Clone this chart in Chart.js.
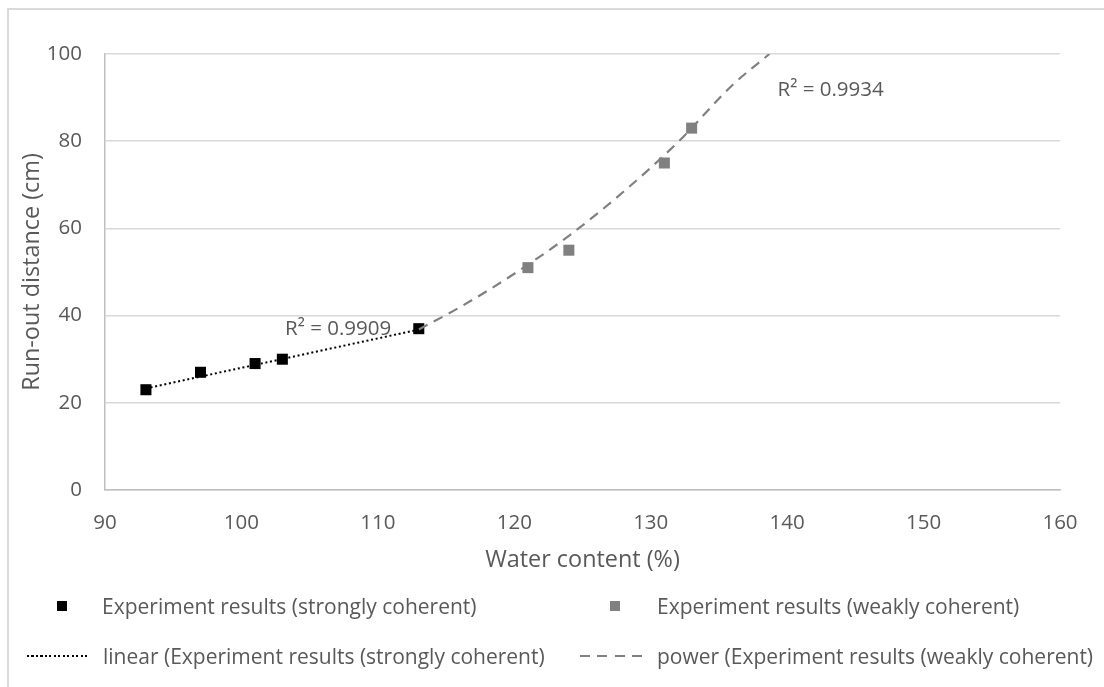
<!DOCTYPE html>
<html>
<head>
<meta charset="utf-8">
<script src="https://cdn.jsdelivr.net/npm/chart.js@4/dist/chart.umd.min.js"></script>
<style>
    body { margin: 0; background: #fff; overflow: hidden; }
    #wrap { position: relative; width: 1104px; height: 687px; }
    #frame { position: absolute; left: 7px; top: 8px; width: 1200px; height: 800px;
             border-left: 2px solid #d9d9d9; border-top: 2px solid #d9d9d9; }
    canvas { position: absolute; left: 0; top: 0; }
    .lg { position: absolute; font-family: 'Open Sans', sans-serif; font-size: 21px; color: #595959;
          line-height: 24px; white-space: nowrap; }
    .mk { position: absolute; width: 10px; height: 10px; }
    .ln { position: absolute; height: 2px; }
</style>
</head>
<body>
<div id="wrap">
    <div id="frame"></div>
    <canvas id="chart" width="1104" height="687"></canvas>

    <!-- legend, Excel style, two columns -->
    <div class="mk" style="left:57px; top:601px; background:#000;"></div>
    <div class="lg" style="left:102px; top:594px;">Experiment results (strongly coherent)</div>
    <div class="mk" style="left:610px; top:601px; background:#808080;"></div>
    <div class="lg" style="left:657px; top:594px;">Experiment results (weakly coherent)</div>

    <div class="ln" style="left:27px; top:655px; width:63px; background:repeating-linear-gradient(90deg,#000 0 2px,transparent 2px 4.5px);"></div>
    <div class="lg" style="left:103px; top:644px;">linear (Experiment results (strongly coherent)</div>
    <div class="ln" style="left:580px; top:655px; width:63px; background:repeating-linear-gradient(90deg,#808080 0 10px,transparent 10px 17.5px);"></div>
    <div class="lg" style="left:657px; top:644px;">power (Experiment results (weakly coherent)</div>
</div>

<script>
// Run-out distance vs water content

// Experiment results (strongly coherent)
const strongX = [93, 97, 101, 103, 113];
const strongY = [23, 27, 29, 30, 37];

// Experiment results (weakly coherent)
const weakX = [121, 124, 131, 133];
const weakY = [51, 55, 75, 83];

// Trendlines
const linearFitX = [93, 113];
const linearFitY = [23.3, 36.8];
const powerFitX = [113, 116, 120, 124, 128, 132, 136, 138.7];
const powerFitY = [36.8, 41.9, 49.6, 58.3, 68.4, 79.8, 92.9, 100];

// R² labels
const r2Text = ['R² = 0.9909', 'R² = 0.9934'];
const r2X = [103.2, 139.3];
const r2Y = [36.9, 91.7];

// Axis ticks
const xTicks = [90, 100, 110, 120, 130, 140, 150, 160];
const yTicks = [0, 20, 40, 60, 80, 100];

const textColor = '#595959';
const fontFamily = "'Open Sans', sans-serif";

// Build {x, y} points from two arrays
function toPoints(xs, ys) {
    return xs.map((x, i) => ({ x: x, y: ys[i] }));
}

// Draw R² labels at data positions
const r2Plugin = {
    id: 'r2Labels',
    afterDatasetsDraw(chart) {
        const ctx = chart.ctx;
        const xs = chart.scales.x;
        const ys = chart.scales.y;
        ctx.save();
        ctx.font = '20.5px ' + fontFamily;
        ctx.fillStyle = textColor;
        ctx.textAlign = 'left';
        ctx.textBaseline = 'middle';
        r2Text.forEach((t, i) => {
            ctx.fillText(t, xs.getPixelForValue(r2X[i]), ys.getPixelForValue(r2Y[i]));
        });
        ctx.restore();
    }
};

new Chart(document.getElementById('chart').getContext('2d'), {
    type: 'scatter',
    data: {
        datasets: [
            {
                label: 'linear (Experiment results (strongly coherent)',
                data: toPoints(linearFitX, linearFitY),
                showLine: true,
                borderColor: '#000',
                borderWidth: 2,
                borderDash: [2, 2.7],
                pointRadius: 0,
                order: 0
            },
            {
                label: 'power (Experiment results (weakly coherent)',
                data: toPoints(powerFitX, powerFitY),
                showLine: true,
                borderColor: '#808080',
                borderWidth: 2.2,
                borderDash: [10, 7],
                cubicInterpolationMode: 'monotone',
                pointRadius: 0,
                order: 0
            },
            {
                label: 'Experiment results (strongly coherent)',
                data: toPoints(strongX, strongY),
                pointStyle: 'rect',
                pointRadius: 7.8,
                backgroundColor: '#000',
                borderColor: '#000',
                borderWidth: 0,
                order: 1
            },
            {
                label: 'Experiment results (weakly coherent)',
                data: toPoints(weakX, weakY),
                pointStyle: 'rect',
                pointRadius: 7.8,
                backgroundColor: '#808080',
                borderColor: '#808080',
                borderWidth: 0,
                order: 1
            }
        ]
    },
    options: {
        responsive: false,
        animation: false,
        devicePixelRatio: 1,
        layout: {
            padding: { left: 8, top: 54, right: 44, bottom: 97 }
        },
        plugins: {
            legend: { display: false },
            tooltip: { enabled: false }
        },
        scales: {
            x: {
                type: 'linear',
                min: 90,
                max: 160,
                afterFit: scale => { scale.height = 100; },
                afterBuildTicks: scale => { scale.ticks = xTicks.map(v => ({ value: v })); },
                grid: { display: false },
                border: { display: true, color: '#bfbfbf', width: 1.5 },
                ticks: {
                    color: textColor,
                    font: { family: fontFamily, size: 20.5 },
                    padding: 13,
                    maxRotation: 0
                },
                title: {
                    display: true,
                    text: 'Water content (%)',
                    color: textColor,
                    font: { family: fontFamily, size: 23.4 },
                    padding: { top: 0, bottom: 16 }
                }
            },
            y: {
                type: 'linear',
                min: 0,
                max: 100,
                afterFit: scale => { scale.width = 97; },
                afterBuildTicks: scale => { scale.ticks = yTicks.map(v => ({ value: v })); },
                grid: { color: '#d9d9d9', lineWidth: 1.5, drawTicks: false },
                border: { display: true, color: '#bfbfbf', width: 1.5 },
                ticks: {
                    color: textColor,
                    font: { family: fontFamily, size: 20.5 },
                    padding: 23
                },
                title: {
                    display: true,
                    text: 'Run-out distance (cm)',
                    color: textColor,
                    font: { family: fontFamily, size: 23.4 },
                    padding: { top: 10, bottom: 0 }
                }
            }
        }
    },
    plugins: [r2Plugin]
});
</script>
</body>
</html>
